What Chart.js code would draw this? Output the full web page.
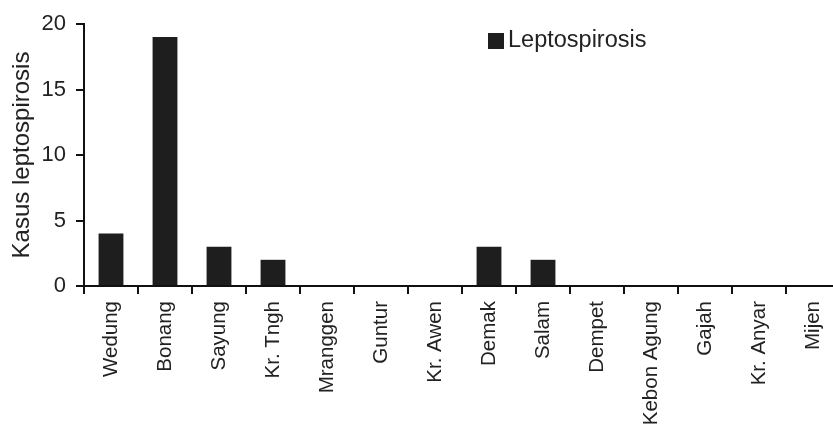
<!DOCTYPE html>
<html lang="id">
<head>
  <meta charset="UTF-8" />
  <title>Kasus leptospirosis</title>
  <script src="https://cdn.jsdelivr.net/npm/chart.js"></script>
  <style>
    body { margin: 0; background: #fff; overflow: hidden; }
    #wrap { width: 860px; height: 429px; position: relative; }
  </style>
</head>
<body>
  <div id="wrap"><canvas id="chart"></canvas></div>

  <script>
    const kecamatan = ['Wedung', 'Bonang', 'Sayung', 'Kr. Tngh', 'Mranggen', 'Guntur', 'Kr. Awen',
      'Demak', 'Salam', 'Dempet', 'Kebon Agung', 'Gajah', 'Kr. Anyar', 'Mijen'];
    const kasus = [4, 19, 3, 2, 0, 0, 0, 3, 2, 0, 0, 0, 0, 0];
    const seriesName = 'Leptospirosis';
    const yTitle = 'Kasus leptospirosis';
    const yMin = 0, yMax = 20, yStep = 5;

    const FONT = '"Liberation Sans", Arial, sans-serif';
    const INK = '#1e1e1e';

    // legend drawn inside the plot, top right-ish like the original
    const boxLegend = {
      id: 'boxLegend',
      afterDraw(chart) {
        const { ctx, chartArea } = chart;
        const x = chartArea.left + 404, y = chartArea.top + 9;
        ctx.save();
        ctx.fillStyle = INK;
        ctx.fillRect(x, y, 16, 16);
        ctx.font = '23.5px ' + FONT;
        ctx.textBaseline = 'middle';
        ctx.fillStyle = '#222';
        ctx.fillText(chart.data.datasets[0].label, x + 20, y + 8);
        ctx.restore();
      }
    };

    new Chart(document.getElementById('chart'), {
      type: 'bar',
      data: {
        labels: kecamatan,
        datasets: [{
          label: seriesName,
          data: kasus,
          backgroundColor: INK,
          categoryPercentage: 1,
          barPercentage: 0.46
        }]
      },
      options: {
        responsive: true,
        maintainAspectRatio: false,
        animation: false,
        layout: { padding: { top: 24, right: 20, left: 0, bottom: 0 } },
        plugins: { legend: { display: false }, tooltip: { enabled: false } },
        scales: {
          x: {
            grid: { offset: true, drawOnChartArea: false, drawTicks: true, tickLength: 8, color: '#111', lineWidth: 2 },
            border: { display: true, color: '#111', width: 2 },
            ticks: { minRotation: 90, maxRotation: 90, autoSkip: false, padding: 7, color: '#222', font: { family: FONT, size: 20.5 } },
            afterFit(scale) { scale.height = 143; }
          },
          y: {
            min: yMin, max: yMax,
            grid: { drawOnChartArea: false, drawTicks: true, tickLength: 8, color: '#111', lineWidth: 2 },
            border: { display: true, color: '#111', width: 2 },
            ticks: { stepSize: yStep, padding: 10, color: '#222', font: { family: FONT, size: 22 } },
            title: { display: true, text: yTitle, color: '#222', padding: { top: 8, bottom: 0 }, font: { family: FONT, size: 24 } },
            afterFit(scale) { scale.width = 84; }
          }
        }
      },
      plugins: [boxLegend]
    });
  </script>
</body>
</html>
